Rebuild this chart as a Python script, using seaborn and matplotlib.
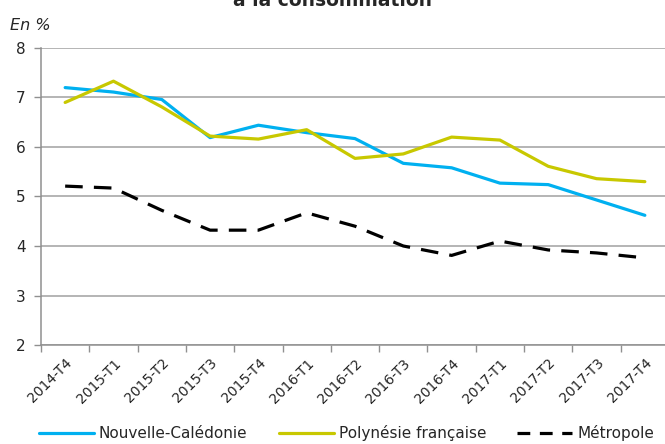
import numpy as np
import pandas as pd
import seaborn as sns
import matplotlib.pyplot as plt
from matplotlib.ticker import FixedLocator

trimestres = ["2014-T4", "2015-T1", "2015-T2", "2015-T3", "2015-T4", "2016-T1", "2016-T2",
              "2016-T3", "2016-T4", "2017-T1", "2017-T2", "2017-T3", "2017-T4"]
nouvelle_caledonie = [7.20, 7.11, 6.96, 6.19, 6.44, 6.29, 6.17, 5.67, 5.58, 5.27, 5.24, 4.93, 4.62]
polynesie = [6.90, 7.33, 6.81, 6.22, 6.16, 6.35, 5.77, 5.86, 6.20, 6.14, 5.61, 5.36, 5.30]
metropole = [5.21, 5.17, 4.72, 4.32, 4.32, 4.67, 4.40, 4.00, 3.81, 4.10, 3.92, 3.86, 3.76]

series = {
    "Nouvelle-Calédonie": nouvelle_caledonie,
    "Polynésie française": polynesie,
    "Métropole": metropole,
}
couleurs = {"Nouvelle-Calédonie": "#00B0F0", "Polynésie française": "#C8C800", "Métropole": "#000000"}
tirets = {"Nouvelle-Calédonie": "", "Polynésie française": "", "Métropole": (5.5, 3.5)}

rows = []
for nom, vals in series.items():
    for i, v in enumerate(vals):
        rows.append({"pos": i, "valeur": v, "zone": nom})
df = pd.DataFrame(rows)

sns.set_style("white")
plt.rcParams['font.family'] = ['DejaVu Sans']

fig = plt.figure(figsize=(6.65, 4.44), dpi=100)
ax = fig.add_axes([41 / 665, 1 - 345 / 444, 628 / 665, 297 / 444])

sns.lineplot(data=df, x="pos", y="valeur", hue="zone", style="zone",
             palette=couleurs, dashes=tirets, linewidth=2.3, ax=ax, legend=False)

ax.set_xlim(-0.5, len(trimestres) - 0.5)
ax.set_ylim(2, 8)
ax.set_yticks(range(2, 9))
ax.yaxis.grid(True, color="#A0A0A0", linewidth=1.1)
ax.set_axisbelow(True)
ax.set_xlabel("")
ax.set_ylabel("")

ax.set_xticks(range(len(trimestres)))
ax.set_xticklabels(trimestres, rotation=45, ha="right", rotation_mode="anchor", fontsize=10)
ax.xaxis.set_minor_locator(FixedLocator(np.arange(-0.5, len(trimestres), 1)))
ax.tick_params(axis="x", which="major", length=0, pad=8)
ax.tick_params(axis="x", which="minor", length=5, width=1, color="#909090", direction="out", bottom=True)
ax.tick_params(axis="y", length=5, width=1, color="#909090", direction="out", left=True, labelsize=11, pad=6)

for s in ["top", "right"]:
    ax.spines[s].set_visible(False)
for s in ["left", "bottom"]:
    ax.spines[s].set_color("#909090")
    ax.spines[s].set_linewidth(1.1)

# titre coupé en haut comme dans l'original
fig.text(0.5, 1 - 1 / 444, "à la consommation", ha="center", va="center", fontsize=13.5, fontweight="bold")
fig.text(10 / 665, 1 - 25 / 444, "En %", ha="left", va="center", fontsize=11.5, style="italic")

handles = [plt.Line2D([], [], color=couleurs[n], linewidth=2.3) for n in series]
handles[2].set_dashes((4, 3))
leg = fig.legend(handles, list(series.keys()), loc="center", bbox_to_anchor=(0.521, 1 - 433 / 444),
                 ncol=3, frameon=False, fontsize=11, handlelength=3.6, handletextpad=0.33,
                 columnspacing=2.05)

fig.savefig("out.png", dpi=100)
